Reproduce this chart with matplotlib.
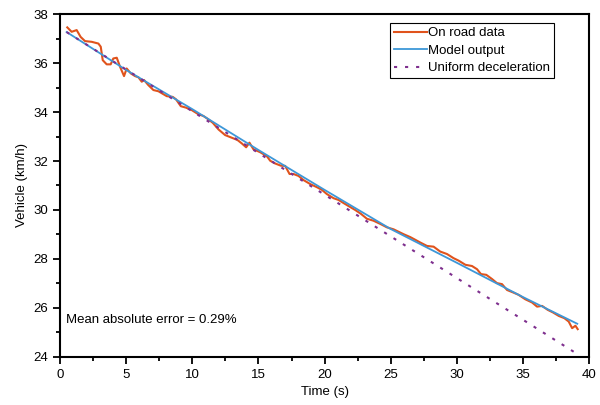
import matplotlib
matplotlib.use("Agg")
import matplotlib.pyplot as plt
from matplotlib.ticker import MultipleLocator

plt.rcParams["font.family"] = ["Liberation Sans", "DejaVu Sans"]

road_t = [0.55, 0.88, 1.26, 1.56, 1.89, 2.4, 2.9, 3.08, 3.23, 3.53, 3.83, 4.03,
          4.29, 4.54, 4.84, 5.04, 5.35, 5.67, 5.93, 6.18, 6.35, 6.68, 7.06, 7.44,
          8.07, 8.52, 8.77, 9.13, 9.53, 9.96, 10.46, 10.84, 11.22, 11.55, 11.98,
          12.48, 12.99, 13.41, 13.74, 14.07, 14.32, 14.62, 15.13, 15.63, 15.89,
          16.26, 16.69, 17.02, 17.35, 17.65, 18.03, 18.41, 18.91, 19.42, 19.80,
          20.17, 20.68, 21.05, 21.38, 21.81, 22.31, 22.75, 23.20, 23.70, 24.21,
          24.71, 25.21, 25.59, 25.97, 26.48, 26.86, 27.23, 27.74, 28.24, 28.74,
          29.25, 29.75, 30.13, 30.64, 31.14, 31.52, 31.82, 32.22, 32.65, 33.03,
          33.41, 33.79, 34.29, 34.67, 35.17, 35.68, 36.06, 36.44, 36.86, 37.27,
          37.70, 38.12, 38.45, 38.71, 38.96, 39.13]
road_v = [37.46, 37.28, 37.35, 37.07, 36.90, 36.87, 36.80, 36.67, 36.12, 35.95,
          35.95, 36.19, 36.22, 35.85, 35.47, 35.78, 35.58, 35.47, 35.42, 35.24,
          35.31, 35.10, 34.90, 34.85, 34.65, 34.62, 34.52, 34.24, 34.18, 34.08,
          33.91, 33.84, 33.70, 33.56, 33.29, 33.06, 32.95, 32.86, 32.72, 32.56,
          32.75, 32.48, 32.36, 32.20, 32.01, 31.90, 31.81, 31.80, 31.47, 31.47,
          31.39, 31.22, 31.06, 30.93, 30.82, 30.65, 30.48, 30.41, 30.30, 30.16,
          30.00, 29.84, 29.64, 29.56, 29.43, 29.29, 29.21, 29.11, 29.01, 28.89,
          28.78, 28.67, 28.53, 28.50, 28.30, 28.20, 28.03, 27.93, 27.76, 27.71,
          27.58, 27.38, 27.35, 27.18, 27.01, 26.97, 26.73, 26.62, 26.53, 26.35,
          26.22, 26.05, 26.08, 25.92, 25.81, 25.67, 25.58, 25.44, 25.17, 25.27,
          25.13]

# Model output
model_t = [0.5, 5, 10, 15, 20, 25, 30, 35, 39.1]
model_v = [37.27, 35.72, 34.12, 32.45, 30.82, 29.22, 27.84, 26.44, 25.35]

# Uniform deceleration
unif_t = [0.5, 39.2]
unif_v = [37.27, 24.08]

fig = plt.figure(figsize=(6, 4.05), dpi=100)
ax = fig.add_axes([0.1, 0.119, 0.882, 0.846])

ax.plot(road_t, road_v, color="#E0531C", lw=1.5, label="On road data")
ax.plot(model_t, model_v, color="#3D97D8", lw=1.3, label="Model output")
ax.plot(unif_t, unif_v, color="#7E2F8E", lw=1.5, ls=(0, (1.5, 3.8)),
        label="Uniform deceleration")

ax.set_xlim(0, 40)
ax.set_ylim(24, 38)
ax.xaxis.set_major_locator(MultipleLocator(5))
ax.xaxis.set_minor_locator(MultipleLocator(2.5))
ax.yaxis.set_major_locator(MultipleLocator(2))
ax.yaxis.set_minor_locator(MultipleLocator(1))
ax.tick_params(which="both", direction="out", labelsize=9.5, width=1.3,
               top=False, right=False)
ax.tick_params(which="major", length=5)
ax.tick_params(which="minor", length=3)
for s in ax.spines.values():
    s.set_linewidth(1.5)

ax.set_xlabel("Time (s)", fontsize=9.5)
ax.set_ylabel("Vehicle (km/h)", fontsize=9.5)

ax.text(0.45, 25.5, "Mean absolute error = 0.29%", fontsize=9.5, va="center")

leg = ax.legend(loc="upper right", bbox_to_anchor=(0.934, 0.974), fontsize=9.5,
                fancybox=False, framealpha=1, edgecolor="black",
                handlelength=2.5, handletextpad=0.1, labelspacing=0.4,
                borderpad=0.3, borderaxespad=0)
leg.get_frame().set_linewidth(0.8)

fig.savefig("out.png", dpi=100)
